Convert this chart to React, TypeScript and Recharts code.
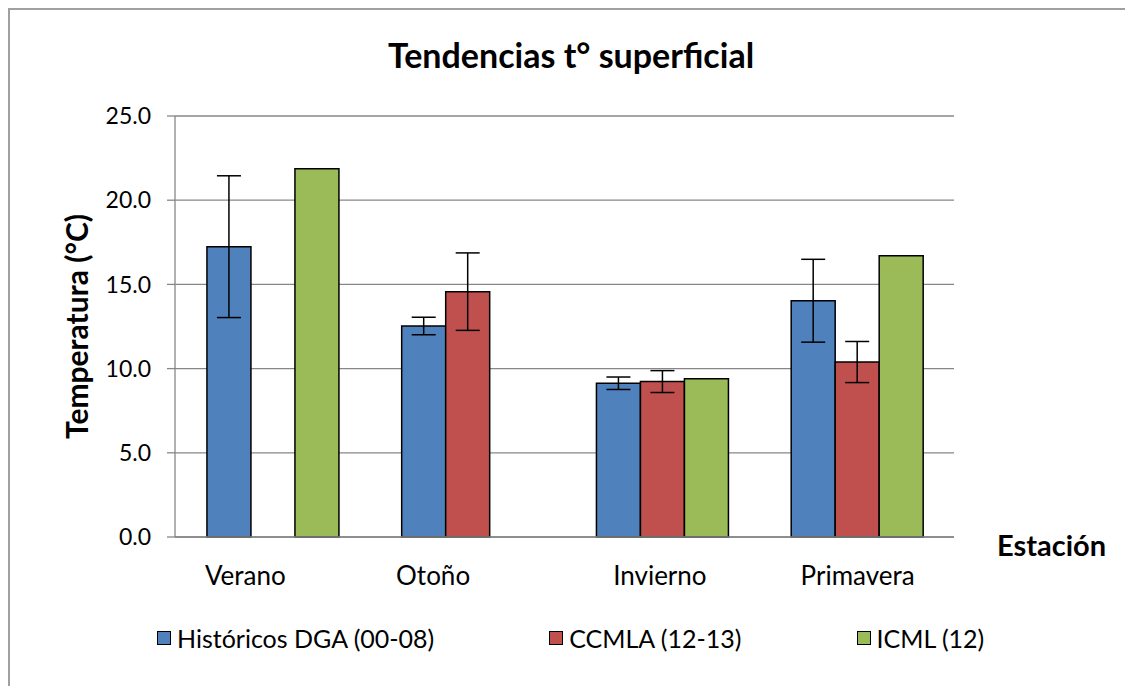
import React from "react";
import { BarChart, Bar, XAxis, YAxis, CartesianGrid, ErrorBar } from "recharts";

const categories = ["Verano", "Otoño", "Invierno", "Primavera"];
const dgaValues = [17.24, 12.53, 9.13, 14.03];
const dgaErrors = [4.21, 0.52, 0.37, 2.46];
const ccmlaValues: (number | null)[] = [null, 14.57, 9.23, 10.39];
const ccmlaErrors: (number | null)[] = [null, 2.3, 0.65, 1.22];
const icmlValues: (number | null)[] = [21.87, null, 9.4, 16.7];
const yTicks = [0, 5, 10, 15, 20, 25];
const seriesNames = ["Históricos DGA (00-08)", "CCMLA (12-13)", "ICML (12)"];
const seriesColors = ["#4F81BD", "#C0504D", "#9BBB59"];

const data = categories.map((c, i) => ({
  cat: c,
  dga: dgaValues[i],
  dgaErr: dgaErrors[i],
  ccmla: ccmlaValues[i],
  ccmlaErr: ccmlaErrors[i],
  icml: icmlValues[i],
}));

const FONT = "Lato, 'Open Sans', sans-serif";
const GRID = "#878787";

const tickShift: Record<string, number> = { Verano: -27, "Otoño": -34, Invierno: -2, Primavera: 1 };

const XTick = (props: any) => {
  const { x, y, payload } = props;
  const s = tickShift[payload.value] || 0;
  return (
    <text x={x + s} y={y + 38} textAnchor="middle" dominantBaseline="central" fontFamily={FONT} fontSize={26} fill="#000">
      {payload.value}
    </text>
  );
};

export default function App() {
  return (
    <div style={{ position: "absolute", left: 8, top: 8, width: 1115, height: 676, borderTop: "2px solid #a0a0a0", borderLeft: "2px solid #a0a0a0", background: "#fff" }}>
      <div style={{ position: "absolute", left: 0, width: 1122, top: 25, textAlign: "center", fontFamily: FONT, fontWeight: 700, fontSize: 34, lineHeight: "40px", color: "#000" }}>
        Tendencias t° superficial
      </div>
      <div style={{ position: "absolute", left: 987, top: 517, fontFamily: FONT, fontWeight: 700, fontSize: 29, lineHeight: "36px", color: "#000" }}>
        Estación
      </div>
      <div style={{ position: "absolute", left: 147, top: 613, height: 30, display: "flex", alignItems: "center", gap: 115, fontFamily: FONT, fontSize: 25, color: "#000" }}>
        {seriesNames.map((n, i) => (
          <div key={n} style={{ display: "flex", alignItems: "center" }}>
            <span style={{ display: "inline-block", width: 12, height: 12, background: seriesColors[i], border: "1.5px solid #000", marginRight: 6 }} />
            <span>{n}</span>
          </div>
        ))}
      </div>
      <BarChart
        width={1115}
        height={676}
        data={data}
        margin={{ top: 106, right: 171, bottom: 119, left: 65 }}
        barCategoryGap="16.4%"
        barGap={0}
      >
        <CartesianGrid vertical={false} stroke={GRID} strokeWidth={1.3} />
        <XAxis dataKey="cat" tick={<XTick />} tickLine={false} tickSize={0} tickMargin={0} axisLine={{ stroke: GRID, strokeWidth: 1.3 }} height={30} interval={0} />
        <YAxis
          domain={[0, 25]}
          ticks={yTicks}
          width={100}
          tickSize={8}
          tickMargin={16}
          tickFormatter={(v: number) => v.toFixed(1)}
          tick={{ fill: "#000", fontSize: 23, fontFamily: FONT }}
          tickLine={{ stroke: GRID, strokeWidth: 1.3 }}
          axisLine={{ stroke: GRID, strokeWidth: 1.3 }}
          label={{
            value: "Temperatura (°C)",
            angle: -90,
            position: "insideLeft",
            offset: 2,
            style: { textAnchor: "middle", fontFamily: FONT, fontWeight: 700, fontSize: 30, fill: "#000" },
          }}
        />
        <Bar dataKey="dga" name={seriesNames[0]} fill={seriesColors[0]} stroke="#000" strokeWidth={1.5} isAnimationActive={false}>
          <ErrorBar dataKey="dgaErr" width={12} stroke="#000" strokeWidth={1.5} direction="y" />
        </Bar>
        <Bar dataKey="ccmla" name={seriesNames[1]} fill={seriesColors[1]} stroke="#000" strokeWidth={1.5} isAnimationActive={false}>
          <ErrorBar dataKey="ccmlaErr" width={12} stroke="#000" strokeWidth={1.5} direction="y" />
        </Bar>
        <Bar dataKey="icml" name={seriesNames[2]} fill={seriesColors[2]} stroke="#000" strokeWidth={1.5} isAnimationActive={false} />
      </BarChart>
    </div>
  );
}
